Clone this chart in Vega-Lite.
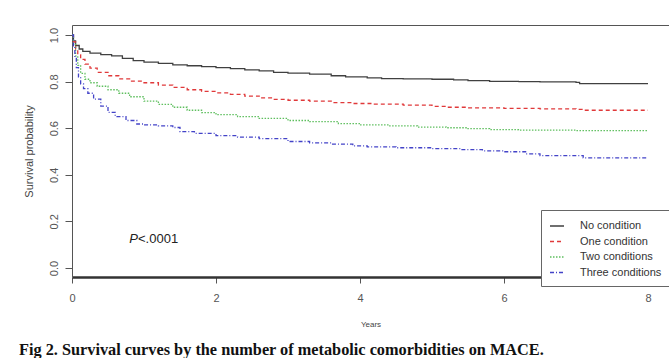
{
  "$schema": "https://vega.github.io/schema/vega-lite/v6.json",
  "autosize": "none",
  "width": 597,
  "height": 252,
  "padding": {"left": 72, "top": 25, "right": 0, "bottom": 81},
  "background": "white",
  "config": {
    "font": "Liberation Sans",
    "view": {"stroke": null}
  },
  "title": {
    "text": "Fig 2. Survival curves by the number of metabolic comorbidities on MACE.",
    "orient": "bottom",
    "anchor": "start",
    "frame": "bounds",
    "font": "Liberation Serif",
    "fontWeight": "bold",
    "fontSize": 16.3,
    "color": "#111",
    "offset": 14,
    "dx": -4
  },
  "resolve": {"axis": {"x": "independent"}},
  "layer": [
    {
      "data": {"values": [
        {"t":0,"s":1.0,"g":"No condition"},{"t":0.02,"s":0.975,"g":"No condition"},{"t":0.05,"s":0.955,"g":"No condition"},{"t":0.1,"s":0.94,"g":"No condition"},{"t":0.15,"s":0.93,"g":"No condition"},{"t":0.25,"s":0.922,"g":"No condition"},{"t":0.4,"s":0.916,"g":"No condition"},{"t":0.55,"s":0.91,"g":"No condition"},{"t":0.7,"s":0.9,"g":"No condition"},{"t":0.85,"s":0.89,"g":"No condition"},{"t":1.0,"s":0.884,"g":"No condition"},{"t":1.2,"s":0.878,"g":"No condition"},{"t":1.4,"s":0.872,"g":"No condition"},{"t":1.6,"s":0.868,"g":"No condition"},{"t":1.8,"s":0.864,"g":"No condition"},{"t":2.0,"s":0.86,"g":"No condition"},{"t":2.2,"s":0.856,"g":"No condition"},{"t":2.4,"s":0.85,"g":"No condition"},{"t":2.6,"s":0.846,"g":"No condition"},{"t":2.8,"s":0.84,"g":"No condition"},{"t":3.0,"s":0.836,"g":"No condition"},{"t":3.3,"s":0.832,"g":"No condition"},{"t":3.6,"s":0.825,"g":"No condition"},{"t":3.8,"s":0.82,"g":"No condition"},{"t":4.1,"s":0.816,"g":"No condition"},{"t":4.3,"s":0.813,"g":"No condition"},{"t":4.6,"s":0.812,"g":"No condition"},{"t":5.0,"s":0.81,"g":"No condition"},{"t":5.3,"s":0.807,"g":"No condition"},{"t":5.5,"s":0.804,"g":"No condition"},{"t":5.8,"s":0.801,"g":"No condition"},{"t":6.2,"s":0.8,"g":"No condition"},{"t":6.5,"s":0.799,"g":"No condition"},{"t":7.0,"s":0.797,"g":"No condition"},{"t":7.05,"s":0.791,"g":"No condition"},{"t":8.0,"s":0.791,"g":"No condition"},
        {"t":0,"s":1.0,"g":"One condition"},{"t":0.02,"s":0.97,"g":"One condition"},{"t":0.05,"s":0.94,"g":"One condition"},{"t":0.08,"s":0.915,"g":"One condition"},{"t":0.12,"s":0.895,"g":"One condition"},{"t":0.18,"s":0.875,"g":"One condition"},{"t":0.25,"s":0.858,"g":"One condition"},{"t":0.35,"s":0.84,"g":"One condition"},{"t":0.5,"s":0.825,"g":"One condition"},{"t":0.65,"s":0.812,"g":"One condition"},{"t":0.8,"s":0.802,"g":"One condition"},{"t":1.0,"s":0.795,"g":"One condition"},{"t":1.2,"s":0.785,"g":"One condition"},{"t":1.4,"s":0.775,"g":"One condition"},{"t":1.6,"s":0.765,"g":"One condition"},{"t":1.8,"s":0.758,"g":"One condition"},{"t":2.0,"s":0.752,"g":"One condition"},{"t":2.2,"s":0.745,"g":"One condition"},{"t":2.4,"s":0.738,"g":"One condition"},{"t":2.6,"s":0.73,"g":"One condition"},{"t":2.8,"s":0.724,"g":"One condition"},{"t":3.0,"s":0.72,"g":"One condition"},{"t":3.3,"s":0.716,"g":"One condition"},{"t":3.6,"s":0.71,"g":"One condition"},{"t":3.9,"s":0.706,"g":"One condition"},{"t":4.2,"s":0.703,"g":"One condition"},{"t":4.6,"s":0.699,"g":"One condition"},{"t":5.0,"s":0.694,"g":"One condition"},{"t":5.2,"s":0.69,"g":"One condition"},{"t":5.5,"s":0.687,"g":"One condition"},{"t":6.0,"s":0.685,"g":"One condition"},{"t":6.5,"s":0.683,"g":"One condition"},{"t":7.0,"s":0.681,"g":"One condition"},{"t":7.1,"s":0.677,"g":"One condition"},{"t":8.0,"s":0.677,"g":"One condition"},
        {"t":0,"s":1.0,"g":"Two conditions"},{"t":0.02,"s":0.96,"g":"Two conditions"},{"t":0.05,"s":0.91,"g":"Two conditions"},{"t":0.08,"s":0.87,"g":"Two conditions"},{"t":0.12,"s":0.835,"g":"Two conditions"},{"t":0.18,"s":0.81,"g":"Two conditions"},{"t":0.25,"s":0.795,"g":"Two conditions"},{"t":0.35,"s":0.78,"g":"Two conditions"},{"t":0.5,"s":0.765,"g":"Two conditions"},{"t":0.65,"s":0.75,"g":"Two conditions"},{"t":0.8,"s":0.735,"g":"Two conditions"},{"t":1.0,"s":0.716,"g":"Two conditions"},{"t":1.2,"s":0.702,"g":"Two conditions"},{"t":1.4,"s":0.69,"g":"Two conditions"},{"t":1.6,"s":0.677,"g":"Two conditions"},{"t":1.8,"s":0.667,"g":"Two conditions"},{"t":2.0,"s":0.658,"g":"Two conditions"},{"t":2.3,"s":0.65,"g":"Two conditions"},{"t":2.6,"s":0.642,"g":"Two conditions"},{"t":3.0,"s":0.633,"g":"Two conditions"},{"t":3.3,"s":0.628,"g":"Two conditions"},{"t":3.7,"s":0.62,"g":"Two conditions"},{"t":4.0,"s":0.614,"g":"Two conditions"},{"t":4.4,"s":0.61,"g":"Two conditions"},{"t":4.8,"s":0.605,"g":"Two conditions"},{"t":5.2,"s":0.602,"g":"Two conditions"},{"t":5.5,"s":0.598,"g":"Two conditions"},{"t":5.8,"s":0.594,"g":"Two conditions"},{"t":6.2,"s":0.592,"g":"Two conditions"},{"t":7.0,"s":0.59,"g":"Two conditions"},{"t":8.0,"s":0.589,"g":"Two conditions"},
        {"t":0,"s":1.0,"g":"Three conditions"},{"t":0.02,"s":0.95,"g":"Three conditions"},{"t":0.04,"s":0.9,"g":"Three conditions"},{"t":0.06,"s":0.86,"g":"Three conditions"},{"t":0.09,"s":0.82,"g":"Three conditions"},{"t":0.12,"s":0.79,"g":"Three conditions"},{"t":0.16,"s":0.77,"g":"Three conditions"},{"t":0.22,"s":0.75,"g":"Three conditions"},{"t":0.3,"s":0.725,"g":"Three conditions"},{"t":0.4,"s":0.695,"g":"Three conditions"},{"t":0.5,"s":0.668,"g":"Three conditions"},{"t":0.6,"s":0.65,"g":"Three conditions"},{"t":0.75,"s":0.633,"g":"Three conditions"},{"t":0.9,"s":0.618,"g":"Three conditions"},{"t":1.0,"s":0.614,"g":"Three conditions"},{"t":1.2,"s":0.61,"g":"Three conditions"},{"t":1.4,"s":0.603,"g":"Three conditions"},{"t":1.5,"s":0.585,"g":"Three conditions"},{"t":1.7,"s":0.578,"g":"Three conditions"},{"t":2.0,"s":0.568,"g":"Three conditions"},{"t":2.3,"s":0.562,"g":"Three conditions"},{"t":2.6,"s":0.555,"g":"Three conditions"},{"t":3.0,"s":0.543,"g":"Three conditions"},{"t":3.3,"s":0.537,"g":"Three conditions"},{"t":3.6,"s":0.532,"g":"Three conditions"},{"t":3.9,"s":0.524,"g":"Three conditions"},{"t":4.1,"s":0.52,"g":"Three conditions"},{"t":4.5,"s":0.516,"g":"Three conditions"},{"t":5.0,"s":0.512,"g":"Three conditions"},{"t":5.4,"s":0.508,"g":"Three conditions"},{"t":5.7,"s":0.503,"g":"Three conditions"},{"t":6.0,"s":0.499,"g":"Three conditions"},{"t":6.3,"s":0.49,"g":"Three conditions"},{"t":6.5,"s":0.482,"g":"Three conditions"},{"t":7.1,"s":0.473,"g":"Three conditions"},{"t":8.0,"s":0.472,"g":"Three conditions"}
      ]},
      "mark": {"type": "line", "interpolate": "step-after", "strokeWidth": 1.3, "clip": true},
      "encoding": {
        "x": {
          "field": "t", "type": "quantitative",
          "scale": {"domain": [0, 8.2917], "nice": false, "zero": false},
          "axis": {
            "orient": "bottom",
            "values": [0, 2, 4, 6, 8], "format": "d", "grid": false,
            "domain": true, "domainColor": "#333", "domainWidth": 2.5,
            "tickColor": "#555", "tickSize": 6, "tickWidth": 1,
            "labelFontSize": 11, "labelColor": "#555", "labelPadding": 9,
            "labelFlush": false,
            "title": "Years", "titleFontSize": 8, "titleFontWeight": "normal",
            "titleColor": "#444", "titlePadding": 17
          }
        },
        "y": {
          "field": "s", "type": "quantitative",
          "scale": {"domain": [-0.0386, 1.0429], "nice": false, "zero": false},
          "axis": {
            "values": [0, 0.2, 0.4, 0.6, 0.8, 1.0], "format": ".1f", "grid": false,
            "domain": true, "domainColor": "#555", "domainWidth": 1,
            "tickColor": "#555", "tickSize": 7,
            "labelAngle": -90, "labelAlign": "center", "labelBaseline": "bottom",
            "labelFontSize": 11, "labelColor": "#555", "labelPadding": 6,
            "title": "Survival probability", "titleFontSize": 11,
            "titleFontWeight": "normal", "titleColor": "#444", "titlePadding": 14
          }
        },
        "color": {
          "field": "g", "type": "nominal",
          "scale": {
            "domain": ["No condition", "One condition", "Two conditions", "Three conditions"],
            "range": ["#404040", "#e0393a", "#5fbf5f", "#4343c8"]
          },
          "legend": {
            "title": null, "orient": "none", "legendX": 469, "legendY": 185,
            "strokeColor": "#666", "fillColor": "white", "padding": 8,
            "symbolType": "stroke", "symbolSize": 196, "symbolStrokeWidth": 1.3,
            "labelFontSize": 11, "labelColor": "#333", "labelOffset": 15,
            "rowPadding": 2.5
          }
        },
        "strokeDash": {
          "field": "g", "type": "nominal",
          "scale": {
            "domain": ["No condition", "One condition", "Two conditions", "Three conditions"],
            "range": [[1, 0], [4, 3], [1.5, 1.5], [4, 2, 1, 2]]
          },
          "legend": {
            "title": null, "orient": "none", "legendX": 469, "legendY": 185
          }
        }
      }
    },
    {
      "data": {"values": [{"x": 0.917, "y": 0.124, "label": "P"}]},
      "mark": {"type": "text", "align": "right", "baseline": "middle", "fontSize": 13, "fontStyle": "italic", "color": "#222"},
      "encoding": {
        "x": {
          "field": "x", "type": "quantitative",
          "axis": {"orient": "top", "domain": true, "domainColor": "#555", "domainWidth": 1, "ticks": false, "labels": false, "grid": false, "title": null}
        },
        "y": {"field": "y", "type": "quantitative"},
        "text": {"field": "label"}
      }
    },
    {
      "data": {"values": [{"x": 0.917, "y": 0.124, "label": "<.0001"}]},
      "mark": {"type": "text", "align": "left", "baseline": "middle", "fontSize": 13, "color": "#222"},
      "encoding": {
        "x": {"field": "x", "type": "quantitative", "axis": null},
        "y": {"field": "y", "type": "quantitative"},
        "text": {"field": "label"}
      }
    }
  ]
}
